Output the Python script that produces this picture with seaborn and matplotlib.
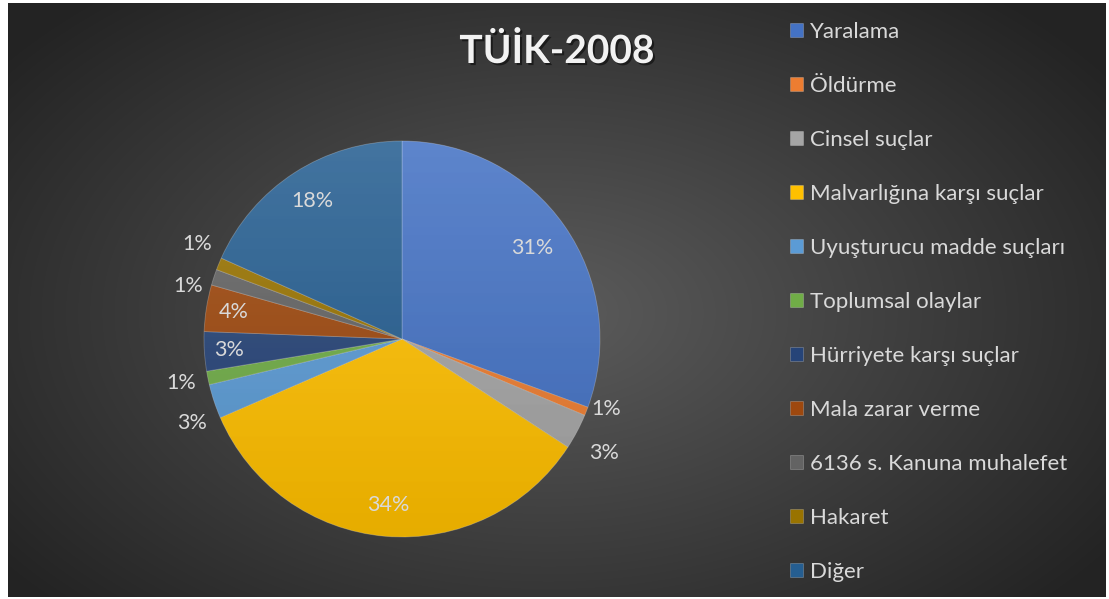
import numpy as np
import matplotlib
matplotlib.use("Agg")
import matplotlib.pyplot as plt
import matplotlib.patheffects as pe
from matplotlib.patches import Circle
import seaborn as sns

# TÜİK 2008 - suç türlerine göre dağılım (yüzde)
categories = ["Yaralama", "Öldürme", "Cinsel suçlar", "Malvarlığına karşı suçlar",
              "Uyuşturucu madde suçları", "Toplumsal olaylar", "Hürriyete karşı suçlar",
              "Mala zarar verme", "6136 s. Kanuna muhalefet", "Hakaret", "Diğer"]
values = [30.6, 0.7, 2.9, 34.3, 2.8, 1.1, 3.2, 3.8, 1.3, 1.0, 18.3]
colors = ["#4472C4", "#ED7D31", "#A5A5A5", "#FFC000", "#5B9BD5", "#70AD47",
          "#264478", "#9E480E", "#636363", "#997300", "#255E91"]
title = "TÜİK-2008"

sns.set_theme(style="white")
plt.rcParams["font.family"] = ["Lato", "DejaVu Sans"]

W, H = 1109, 599
fig = plt.figure(figsize=(W / 100, H / 100), dpi=100)
fig.patch.set_facecolor("white")

# dark radial background of the chart area
bg = fig.add_axes([8 / W, 2 / H, 1098 / W, 594 / H])
yy, xx = np.mgrid[0:594, 0:1098]
d = np.sqrt(((xx - 540) / 680.0) ** 2 + ((yy - 310) / 420.0) ** 2)
d = np.clip(d, 0, 1)
shade = 0.36 - (0.36 - 0.14) * d
bg.imshow(np.dstack([shade, shade, shade]), aspect="auto", interpolation="bilinear")
bg.set_axis_off()

# pie
cx, cy, r = 402, H - 339, 198
ax = fig.add_axes([(cx - r) / W, (cy - r) / H, 2 * r / W, 2 * r / H])
wedges, _ = ax.pie(values, colors=sns.color_palette(colors), startangle=90,
                   counterclock=False, radius=1,
                   wedgeprops=dict(edgecolor=(1, 1, 1, 0.25), linewidth=0.6))
ax.set_xlim(-1, 1)
ax.set_ylim(-1, 1)
ax.set_axis_off()

# soft light-to-dark gradient on the slices
g = np.linspace(1, 0, 256)[:, None] * np.ones((1, 2))
ov = np.zeros((256, 2, 4))
ov[..., :3] = 1.0
ov[..., 3] = 0.14 * g
im = ax.imshow(ov, extent=[-1, 1, -1, 1], aspect="auto", zorder=5, interpolation="bilinear")
im.set_clip_path(Circle((0, 0), 1, transform=ax.transData))
ov2 = np.zeros((256, 2, 4))
ov2[..., 3] = 0.10 * (1 - g)
im2 = ax.imshow(ov2, extent=[-1, 1, -1, 1], aspect="auto", zorder=5, interpolation="bilinear")
im2.set_clip_path(Circle((0, 0), 1, transform=ax.transData))

# percentage labels (inside for big slices, outside for thin ones)
label_r = [0.80, 1.09, 1.17, 0.84, 1.14, 1.14, 0.875, 0.86, 1.11, 1.14, 0.83]
label_shift = [0, 2.4, -1.5, 0, 3.5, 0, 0, 0, 4.3, -2.5, 0]
total = sum(values)
for w, v, lr, sh in zip(wedges, values, label_r, label_shift):
    ang = np.deg2rad((w.theta1 + w.theta2) / 2 + sh)
    ax.text(lr * np.cos(ang), lr * np.sin(ang), "%.0f%%" % (100 * v / total),
            ha="center", va="center", fontsize=15.5, color="#D9D9D9", zorder=6)

fig.text(557 / W, 1 - 51 / H, title, ha="center", va="center", fontsize=28,
         fontweight="bold", color="#F2F2F2",
         path_effects=[pe.withSimplePatchShadow(offset=(1.5, -1.5), shadow_rgbFace="black", alpha=0.5)])

leg = fig.legend(wedges, categories, loc="upper left",
                 bbox_to_anchor=(779 / W, 1 - 11 / H), frameon=False,
                 fontsize=16, handlelength=0.6, handleheight=0.6,
                 handletextpad=0.3, labelspacing=1.53, borderpad=0)
for t in leg.get_texts():
    t.set_color("#D9D9D9")

fig.savefig("out.png", dpi=100)
